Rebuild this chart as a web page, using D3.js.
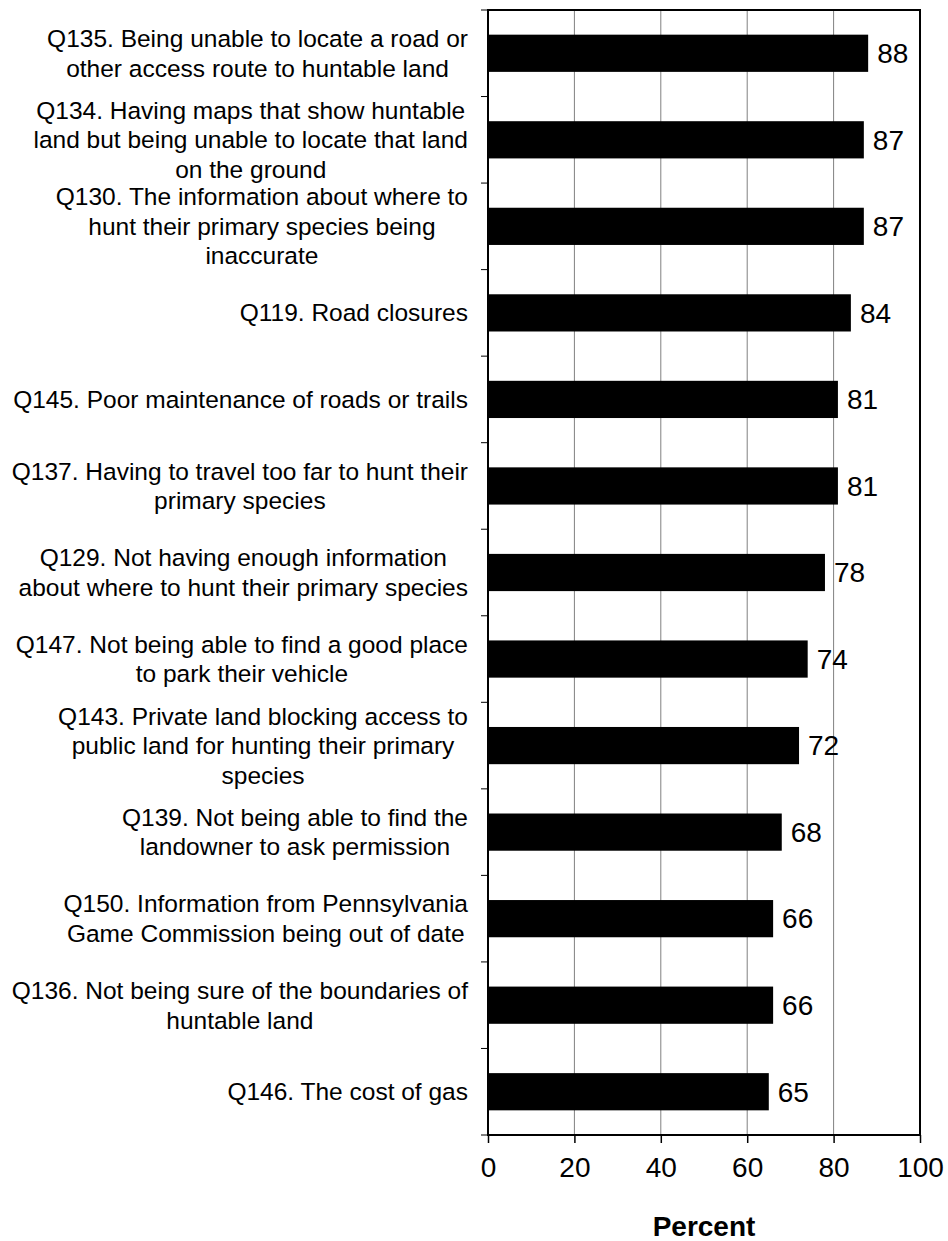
<!doctype html>
<html>
<head>
  <meta charset="UTF-8">
  <script src="https://d3js.org/d3.v7.min.js"></script>
  <style>
    body { margin: 0; background: #fff; }
    svg text { font-family: Arial, "Liberation Sans", sans-serif; fill: #000; }
  </style>
</head>
<body>
<svg width="948" height="1241"></svg>
<script>
// category labels, already split into lines as in the original
const labels = [
  ["Q135. Being unable to locate a road or", "other access route to huntable land"],
  ["Q134. Having maps that show huntable", "land but being unable to locate that land", "on the ground"],
  ["Q130. The information about where to", "hunt their primary species being", "inaccurate"],
  ["Q119. Road closures"],
  ["Q145. Poor maintenance of roads or trails"],
  ["Q137. Having to travel too far to hunt their", "primary species"],
  ["Q129. Not having enough information", "about where to hunt their primary species"],
  ["Q147. Not being able to find a good place", "to park their vehicle"],
  ["Q143. Private land blocking access to", "public land for hunting their primary", "species"],
  ["Q139. Not being able to find the", "landowner to ask permission"],
  ["Q150. Information from Pennsylvania", "Game Commission being out of date"],
  ["Q136. Not being sure of the boundaries of", "huntable land"],
  ["Q146. The cost of gas"]
];
const values = [88, 87, 87, 84, 81, 81, 78, 74, 72, 68, 66, 66, 65];
const xTicks = [0, 20, 40, 60, 80, 100];

const svg = d3.select("svg");
const margin = {top: 10, right: 28, bottom: 106, left: 488};
const width = 948 - margin.left - margin.right;
const height = 1241 - margin.top - margin.bottom;

const ids = labels.map((d, i) => i);

const x = d3.scaleLinear().domain([0, 100]).range([0, width]);
const y = d3.scaleBand().domain(ids).range([0, height]).paddingInner(0.57).paddingOuter(0.285);
const yb = d3.scaleBand().domain(ids).range([0, height]);

const g = svg.append("g").attr("transform", "translate(" + margin.left + "," + margin.top + ")");

// vertical gridlines
g.append("g").selectAll("line")
  .data(xTicks.filter(t => t > 0 && t < 100))
  .enter().append("line")
  .attr("x1", d => x(d)).attr("x2", d => x(d))
  .attr("y1", 0).attr("y2", height)
  .attr("stroke", "#808080").attr("stroke-width", 1);

// bars
g.append("g").selectAll("rect")
  .data(values)
  .enter().append("rect")
  .attr("x", 0)
  .attr("y", (d, i) => y(i))
  .attr("width", d => x(d))
  .attr("height", y.bandwidth())
  .attr("fill", "#000");

// value labels
g.append("g").selectAll("text")
  .data(values)
  .enter().append("text")
  .attr("x", d => x(d) + 9)
  .attr("y", (d, i) => yb(i) + yb.bandwidth() / 2)
  .attr("dy", "0.35em")
  .style("font-size", "28px")
  .text(d => d);

// plot frame
g.append("rect")
  .attr("x", 0).attr("y", 0).attr("width", width).attr("height", height)
  .attr("fill", "none").attr("stroke", "#000").attr("stroke-width", 2);

// left axis ticks at band boundaries
g.append("g").selectAll("line")
  .data(d3.range(labels.length + 1))
  .enter().append("line")
  .attr("x1", -7).attr("x2", 0)
  .attr("y1", d => d * yb.step()).attr("y2", d => d * yb.step())
  .attr("stroke", "#000").attr("stroke-width", 1);

// bottom axis
const xAxis = g.append("g")
  .attr("transform", "translate(0," + height + ")")
  .call(d3.axisBottom(x).tickValues(xTicks).tickSize(8).tickPadding(14));
xAxis.select(".domain").remove();
xAxis.selectAll("line").attr("stroke", "#000").attr("stroke-width", 1.5);
xAxis.selectAll("text")
  .style("font-size", "28px")
  .style("font-family", "Arial, 'Liberation Sans', sans-serif")
  .attr("fill", "#000");

// axis title
g.append("text")
  .attr("x", width / 2)
  .attr("y", height + 101)
  .attr("text-anchor", "middle")
  .style("font-size", "28px")
  .style("font-weight", "bold")
  .text("Percent");

// category labels: centred block, widest line flush to the right edge
const lineH = 29.5;
const labelRight = -20;
labels.forEach(function(lines, i) {
  const cy = yb(i) + yb.bandwidth() / 2;
  const t = g.append("text")
    .attr("text-anchor", "middle")
    .style("font-size", "24.5px");
  const spans = lines.map(function(s, k) {
    return t.append("tspan")
      .attr("y", cy + (k - (lines.length - 1) / 2) * lineH)
      .attr("dy", "0.35em")
      .text(s);
  });
  const maxW = d3.max(spans, s => s.node().getComputedTextLength());
  spans.forEach(s => s.attr("x", labelRight - maxW / 2));
});
</script>
</body>
</html>
